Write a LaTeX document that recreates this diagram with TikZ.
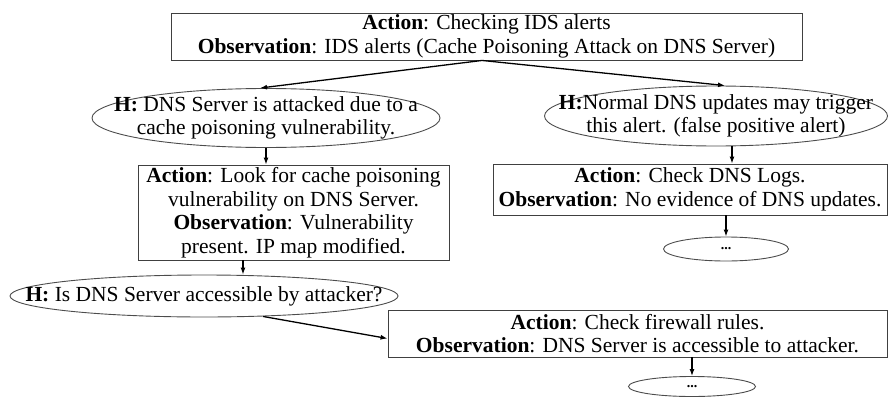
\documentclass[tikz,border=0pt]{standalone}
\usepackage{fontspec}
\setmainfont{Liberation Serif}
\usetikzlibrary{shapes.geometric,arrows.meta}
\begin{document}
\begin{tikzpicture}[x=1pt,y=-1pt,
  txt/.style={font=\fontsize{21.5}{23.5}\selectfont, align=center, inner sep=0pt},
  actbox/.style={draw=black!75, line width=0.9pt, inner sep=0pt, txt},
  hyp/.style={draw=black!70, line width=0.9pt, ellipse, inner sep=0pt},
  conn/.style={line width=1.3pt, -{Latex[length=7pt,width=5pt]}}]
\useasboundingbox (0,0) rectangle (890,396);

% action / observation boxes
\node[actbox, minimum width=631, minimum height=47] (b1) at (486.5,36.5)
  {\textbf{Action}: Checking IDS alerts\\
   \textbf{Observation}: IDS alerts (Cache Poisoning Attack on DNS Server)};
\node[actbox, minimum width=311, minimum height=95] (b2) at (293.5,212.5)
  {\textbf{Action}: Look for cache poisoning\\
   vulnerability on DNS Server.\\
   \textbf{Observation}: Vulnerability\\
   present. IP map modified.};
\node[actbox, minimum width=394, minimum height=51] (b4) at (690,189.5)
  {\textbf{Action}: Check DNS Logs.\\
   \textbf{Observation}: No evidence of DNS updates.};
\node[actbox, minimum width=499, minimum height=47] (b3) at (637.5,333.5)
  {\textbf{Action}: Check firewall rules.\\
   \textbf{Observation}: DNS Server is accessible to attacker.};

% hypothesis ellipses (outline and text drawn separately)
\node[hyp, minimum width=348, minimum height=59] (h1) at (266,118) {};
\node[txt] (h1t) at (h1) {\textbf{H:} DNS Server is attacked due to a\\
   cache poisoning vulnerability.};
\node[hyp, minimum width=343, minimum height=60] (h2) at (716,116) {};
\node[txt] (h2t) at (h2) {\textbf{H:}Normal DNS updates may trigger\\
   this alert. (false positive alert)};
\node[hyp, minimum width=388, minimum height=42] (h3) at (204,296) {};
\node[txt] (h3t) at (h3) {\textbf{H:} Is DNS Server accessible by attacker?};
\node[hyp, minimum width=125, minimum height=24] (e1) at (726,249) {};
\node[txt, font=\fontsize{14}{16}\selectfont\bfseries] (e1t) at (e1) {...};
\node[hyp, minimum width=127, minimum height=20] (e2) at (692,386.5) {};
\node[txt, font=\fontsize{14}{16}\selectfont\bfseries] (e2t) at (e2) {...};

% connectors
\draw[conn] ([xshift=-4.5]b1.south) -- ([xshift=-6]h1.north);
\draw[conn] ([xshift=-4.5]b1.south) -- ([xshift=9]h2.north);
\draw[conn] (h1.south) -- (h1.south |- b2.north);
\draw[conn] ([xshift=-50.5]b2.south) coordinate (b2o) -- (b2o |- h3.north);
\draw[conn] ([xshift=59,yshift=1]h3.south) -- ([yshift=-5]b3.west);
\draw[conn] ([xshift=16]h2.south) coordinate (h2o) -- (h2o |- b4.north);
\draw[conn] (e1.north |- b4.south) -- (e1.north);
\draw[conn] (e2.north |- b3.south) -- (e2.north);
\end{tikzpicture}
\end{document}
